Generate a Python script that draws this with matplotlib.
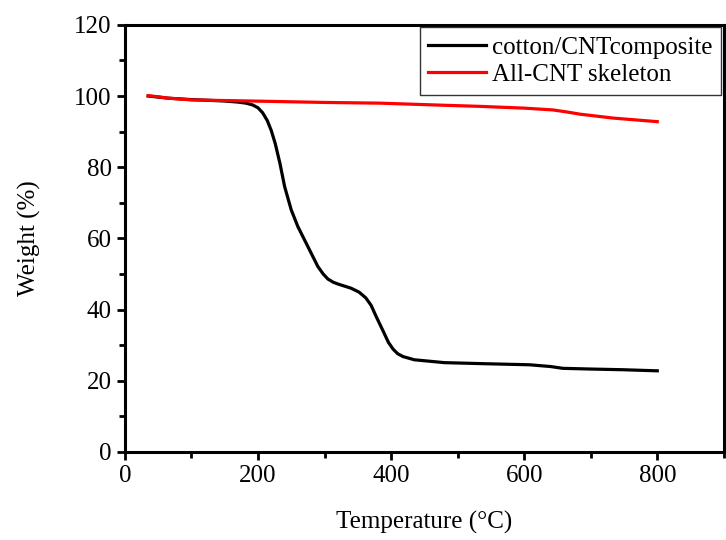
import matplotlib.pyplot as plt
from matplotlib.ticker import MultipleLocator

plt.rcParams['font.family'] = ['Liberation Serif', 'DejaVu Serif']

# TGA curves
temp_composite = [35, 65, 100, 150, 170, 182, 192, 200, 207, 214, 220, 226, 233, 240, 250, 260,
                  275, 290, 298, 305, 313, 320, 340, 352, 362, 370, 378, 388, 396, 403, 410,
                  418, 435, 480, 540, 608, 640, 658, 700, 750, 800]
weight_composite = [100.0, 99.4, 99.0, 98.6, 98.3, 98.0, 97.5, 96.7, 95.3, 93.1, 90.3, 86.6,
                    81.1, 74.6, 68.0, 63.3, 57.7, 52.1, 50.0, 48.6, 47.7, 47.2, 46.0, 44.9,
                    43.3, 41.2, 37.9, 34.0, 30.8, 28.9, 27.6, 26.8, 25.9, 25.1, 24.8, 24.5,
                    24.0, 23.5, 23.3, 23.1, 22.8]

temp_cnt = [35, 50, 65, 100, 190, 300, 383, 481, 533, 600, 643, 665, 684, 734, 800]
weight_cnt = [100.1, 99.8, 99.4, 98.9, 98.6, 98.2, 98.0, 97.4, 97.1, 96.6, 96.1, 95.5, 94.9,
              93.8, 92.8]

fig = plt.figure(figsize=(7.26, 5.40), dpi=100)
ax = fig.add_axes([0.172, 0.163, 0.825, 0.791])

ax.plot(temp_composite, weight_composite, color='black', lw=2.3, label='cotton/CNTcomposite')
ax.plot(temp_cnt, weight_cnt, color='#ff0000', lw=2.3, label='All-CNT skeleton')

ax.set_xlim(0, 900)
ax.set_ylim(0, 120)
ax.xaxis.set_major_locator(MultipleLocator(200))
ax.xaxis.set_minor_locator(MultipleLocator(100))
ax.yaxis.set_major_locator(MultipleLocator(20))
ax.yaxis.set_minor_locator(MultipleLocator(10))

for s in ax.spines.values():
    s.set_linewidth(2.2)
ax.tick_params(which='major', direction='out', length=6, width=2, labelsize=18, top=False, right=False)
ax.tick_params(which='minor', direction='out', length=4, width=2, top=False, right=False)

ax.set_xlabel('Temperature (°C)', fontsize=18, labelpad=17)
ax.set_ylabel('Weight (%)', fontsize=18, labelpad=24)

leg = ax.legend(loc='upper right', fontsize=18, frameon=True, fancybox=False, borderaxespad=0.1,
                handlelength=2.3, labelspacing=0.2, borderpad=0.35, handletextpad=0.25)
leg.get_frame().set_edgecolor('black')
leg.get_frame().set_linewidth(1.0)

plt.savefig('out.png', dpi=100)
